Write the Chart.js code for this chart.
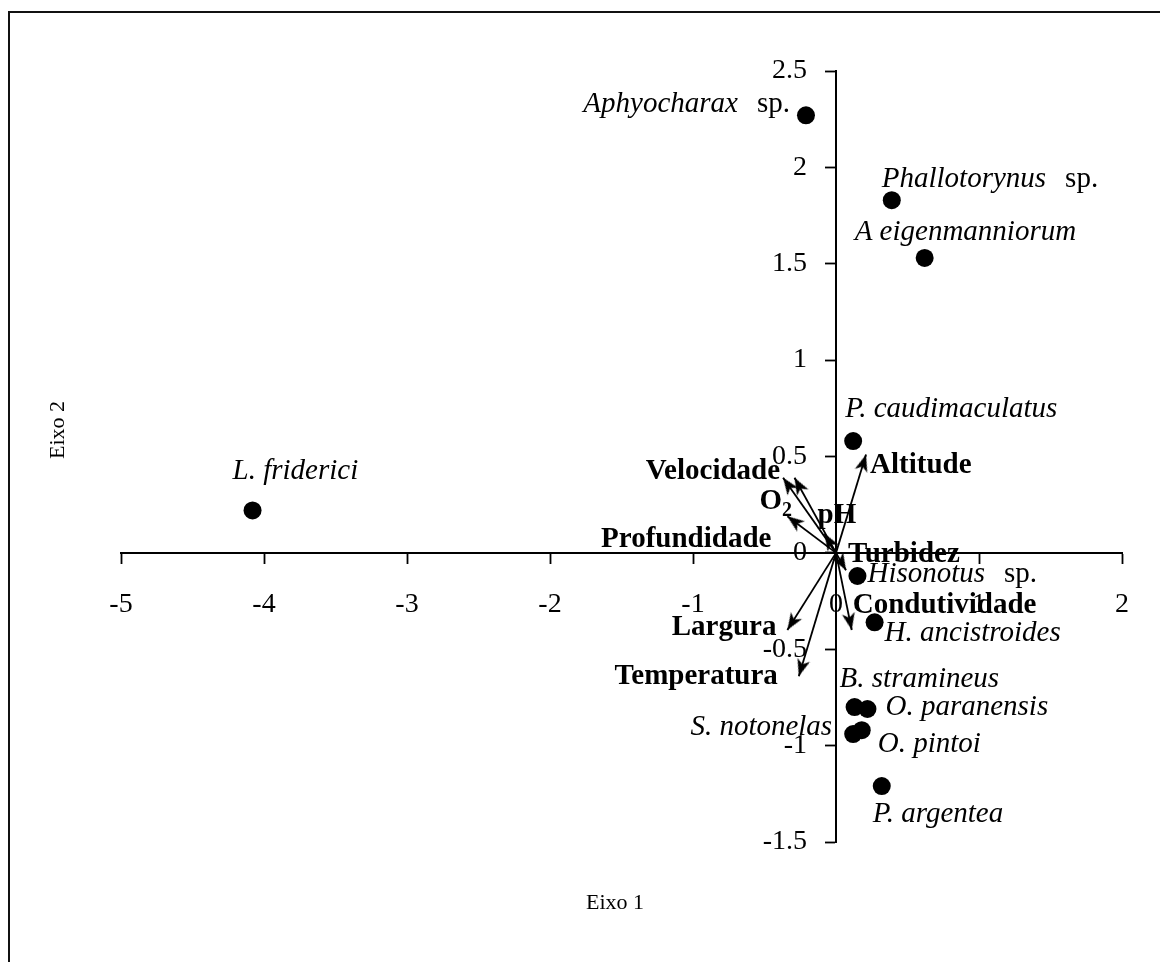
<!DOCTYPE html>
<html><head><meta charset="utf-8">
<script src="https://cdn.jsdelivr.net/npm/chart.js@4.4.1/dist/chart.umd.min.js"></script>
<style>
html,body{margin:0;padding:0;background:#fff;overflow:hidden;}
#wrap{position:relative;width:1160px;height:962px;}
#frame{position:absolute;left:8px;top:11px;width:1400px;height:1200px;border-left:2px solid #111;border-top:2px solid #111;}
canvas{position:absolute;left:0;top:0;}
</style></head><body>
<div id="wrap"><div id="frame"></div><canvas id="c" width="1160" height="962"></canvas></div>
<script>
// ---- data ----
const speciesNames = ['L. friderici','Aphyocharax sp.','Phallotorynus sp.','A eigenmanniorum','P. caudimaculatus','Hisonotus sp.','H. ancistroides','B. stramineus','O. paranensis','S. notonelas','O. pintoi','P. argentea'];
const speciesX = [-4.08,-0.21,0.39,0.62,0.12,0.15,0.27,0.13,0.22,0.12,0.18,0.32];
const speciesY = [0.22,2.27,1.83,1.53,0.58,-0.12,-0.36,-0.80,-0.81,-0.94,-0.92,-1.21];
const variableNames = ['Velocidade','O2','Profundidade','pH','Turbidez','Altitude','Condutividade','Largura','Temperatura'];
const variableX = [-0.37,-0.29,-0.34,-0.08,0.07,0.21,0.11,-0.34,-0.26];
const variableY = [0.39,0.39,0.19,0.10,-0.09,0.51,-0.40,-0.40,-0.64];
const xTicks = [-5,-4,-3,-2,-1,0,1,2];
const yTicks = [-1.5,-1,-0.5,0,0.5,1,1.5,2,2.5];
const axisTitles = ['Eixo 1','Eixo 2'];

// ---- label placement (pixel offsets, styles) ----
const FAM = '"Liberation Serif","Times New Roman",serif';
const speciesLabelPos = [
  {dx:-20,dy:-31,align:'left'},
  {dx:-16,dy:-3,align:'right'},
  {dx:-10,dy:-13,align:'left'},
  {dx:-70,dy:-18,align:'left'},
  {dx:-8,dy:-24,align:'left'},
  {dx:10,dy:6,align:'left'},
  {dx:10,dy:19,align:'left'},
  {dx:-15,dy:-20,align:'left'},
  {dx:18,dy:6,align:'left'},
  {dx:-21,dy:1,align:'right'},
  {dx:16,dy:22,align:'left'},
  {dx:-9,dy:36,align:'left'}
];
const variableLabelPos = [
  {dx:-3,dy:1,align:'right'},
  {dx:-35,dy:31,align:'left'},
  {dx:-16,dy:31,align:'right'},
  {dx:-7,dy:-11,align:'left'},
  {dx:2,dy:-8,align:'left'},
  {dx:4,dy:18,align:'left'},
  {dx:1,dy:-17,align:'left'},
  {dx:-11,dy:5,align:'right'},
  {dx:-21,dy:8,align:'right'}
];
const Y_LABEL_GAP = 29;

// arrowhead image (tip at canvas centre, pointing up)
const head = document.createElement('canvas');
head.width = 20; head.height = 40;
(function(){
  const g = head.getContext('2d');
  g.fillStyle = '#000';
  g.beginPath();
  g.moveTo(10,20); g.lineTo(16.5,37); g.lineTo(10,32.5); g.lineTo(3.5,37); g.closePath();
  g.fill();
})();

function arrowRotation(ctx){
  const ch = ctx.chart, d = ctx.dataset.data;
  const xs = ch.scales.x, ys = ch.scales.y;
  const dx = xs.getPixelForValue(d[1].x) - xs.getPixelForValue(d[0].x);
  const dy = ys.getPixelForValue(d[1].y) - ys.getPixelForValue(d[0].y);
  return Math.atan2(dx, -dy) * 180 / Math.PI;
}

const datasets = [];
variableNames.forEach((n,i)=>{
  datasets.push({
    label:n,
    data:[{x:0,y:0},{x:variableX[i],y:variableY[i]}],
    showLine:true,
    borderColor:'#000',
    borderWidth:1.8,
    pointRadius:c=>c.dataIndex===0?0:6,
    pointStyle:head,
    rotation:c=>c.dataIndex===0?0:arrowRotation(c),
    pointBackgroundColor:'#000',
    pointBorderWidth:0
  });
});
datasets.push({
  label:'species',
  data:speciesX.map((v,i)=>({x:v,y:speciesY[i]})),
  showLine:false,
  pointRadius:9,
  pointStyle:'circle',
  pointBackgroundColor:'#000',
  pointBorderColor:'#000',
  pointBorderWidth:0
});

function drawParts(ctx, parts, x, y, align){
  let total = 0;
  parts.forEach(p=>{ if(p.gap){ total+=p.gap; } else { ctx.font=p.f; total+=ctx.measureText(p.t).width; } });
  let cx = align==='right' ? x-total : x;
  parts.forEach(p=>{
    if(p.gap){ cx+=p.gap; return; }
    ctx.font=p.f;
    ctx.fillText(p.t, cx, y+(p.dy||0));
    cx+=ctx.measureText(p.t).width;
  });
}

// y tick labels sit left of the (centred) axis, clear of the tick marks
const yLabelShift = {
  id:'yLabelShift',
  beforeDraw(chart){
    const s = chart.scales.y;
    const items = s.getLabelItems(chart.chartArea);
    if(!items._shifted){
      items.forEach(it=>{ it.options.translation[0] -= Y_LABEL_GAP; });
      items._shifted = true;
    }
  }
};

const labelPlugin = {
  id:'labels',
  afterDatasetsDraw(chart){
    const {ctx, chartArea, scales:{x,y}} = chart;
    ctx.save();
    ctx.fillStyle='#000';
    ctx.textBaseline='alphabetic';
    ctx.textAlign='left';
    speciesNames.forEach((name,i)=>{
      const px = x.getPixelForValue(speciesX[i]), py = y.getPixelForValue(speciesY[i]);
      const st = speciesLabelPos[i];
      let parts;
      if(name.endsWith(' sp.')) parts=[{t:name.slice(0,-4),f:'italic 29px '+FAM},{gap:19},{t:'sp.',f:'29px '+FAM}];
      else parts=[{t:name,f:'italic 29px '+FAM}];
      drawParts(ctx, parts, px+st.dx, py+st.dy, st.align);
    });
    variableNames.forEach((name,i)=>{
      const px = x.getPixelForValue(variableX[i]), py = y.getPixelForValue(variableY[i]);
      const st = variableLabelPos[i];
      let parts;
      if(name==='O2') parts=[{t:'O',f:'bold 29px '+FAM},{t:'2',f:'bold 20px '+FAM,dy:7}];
      else parts=[{t:name,f:'bold 29px '+FAM}];
      drawParts(ctx, parts, px+st.dx, py+st.dy, st.align);
    });
    // axis titles
    ctx.font='22px '+FAM;
    ctx.textAlign='center';
    ctx.textBaseline='middle';
    ctx.fillText(axisTitles[0], chartArea.left+494, chartArea.bottom+61);
    ctx.translate(chartArea.left-63, chartArea.top+359);
    ctx.rotate(-Math.PI/2);
    ctx.fillText(axisTitles[1], 0, 0);
    ctx.restore();
  }
};

Chart.defaults.font.family = FAM;
Chart.defaults.color = '#000';

new Chart(document.getElementById('c'), {
  type:'scatter',
  data:{datasets},
  plugins:[yLabelShift, labelPlugin],
  options:{
    responsive:false,
    animation:false,
    devicePixelRatio:1,
    layout:{padding:{left:121,right:38,top:71,bottom:120}},
    plugins:{legend:{display:false},tooltip:{enabled:false}},
    scales:{
      x:{
        type:'linear',
        position:{y:0},
        min:-5,max:2,
        afterBuildTicks:s=>{s.ticks=xTicks.map(v=>({value:v}));},
        ticks:{font:{size:28},color:'#000',padding:25,autoSkip:false,maxRotation:0,callback:v=>String(v)},
        grid:{drawOnChartArea:false,drawTicks:true,tickLength:10,tickColor:'#000',tickWidth:1.8},
        border:{display:true,color:'#000',width:2}
      },
      y:{
        type:'linear',
        position:{x:0},
        min:-1.5,max:2.5,
        afterBuildTicks:s=>{s.ticks=yTicks.map(v=>({value:v}));},
        ticks:{font:{size:28},color:'#000',padding:8,autoSkip:false,callback:v=>String(v)},
        grid:{drawOnChartArea:false,drawTicks:true,tickLength:10,tickColor:'#000',tickWidth:1.8},
        border:{display:true,color:'#000',width:2}
      }
    }
  }
});
</script>
</body></html>
